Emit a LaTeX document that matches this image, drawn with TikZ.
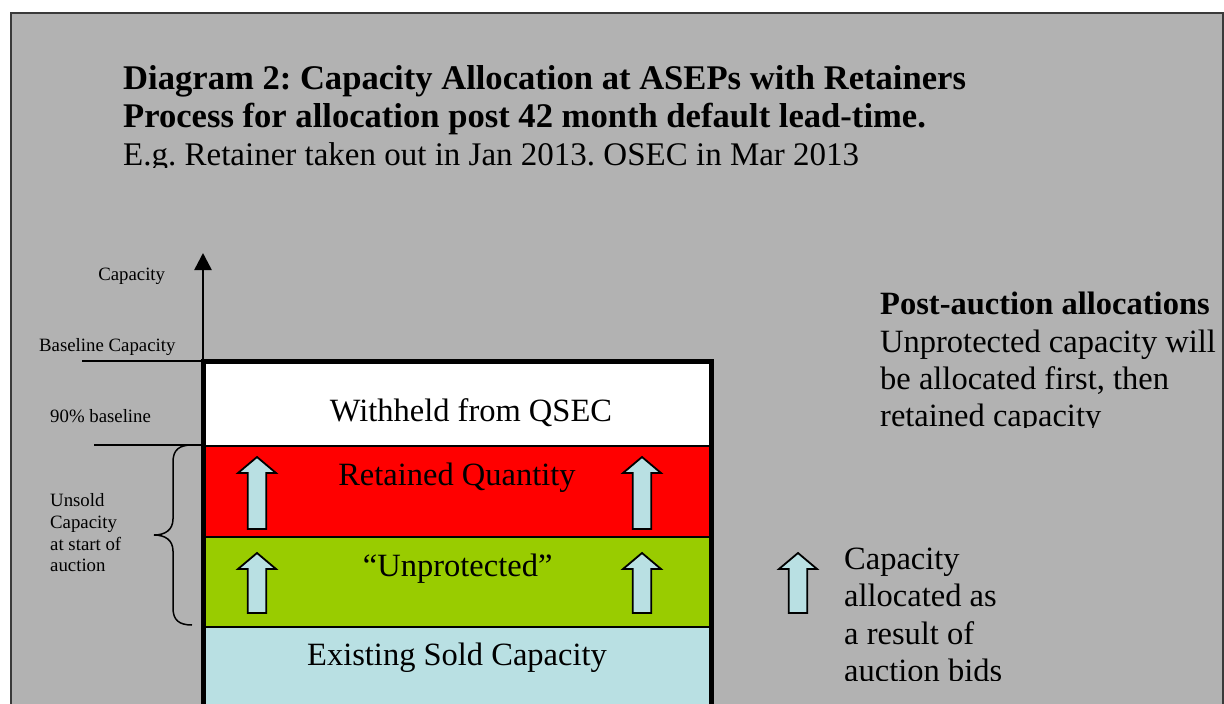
\documentclass[tikz,border=0pt]{standalone}
\usepackage{fontspec}
\setmainfont{Liberation Serif}
\usepackage{xcolor}
\usepackage{tikz}
\usetikzlibrary{arrows.meta}
\frenchspacing
\definecolor{panel}{HTML}{B2B2B2}
\definecolor{frame}{HTML}{3A3A3A}
\definecolor{ink}{HTML}{000000}
\definecolor{retained}{HTML}{FF0000}
\definecolor{unprot}{HTML}{99CC00}
\definecolor{sold}{HTML}{B9E0E3}
\tikzset{
  panelbox/.style={fill=panel, draw=frame, line width=2pt},
  layer/.style={draw=ink, line width=1.6pt},
  stackwall/.style={draw=ink, line width=5pt, line join=miter},
  axisline/.style={draw=ink, line width=2.5pt, -{Triangle[width=17pt,length=17pt]}},
  tick/.style={draw=ink, line width=1.5pt},
  bidarrow/.style={fill=sold, draw=ink, line width=1.8pt, line join=miter},
  titletxt/.style={font=\fontsize{34.6}{39}\selectfont\bfseries, inner sep=0pt, text=ink},
  bigtxt/.style={font=\fontsize{32.5}{37.3}\selectfont, inner sep=0pt, text=ink},
  smalltxt/.style={font=\fontsize{18.8}{21.7}\selectfont, inner sep=0pt, text=ink}
}
% block arrow: centre x, tip y, foot y
\newcommand{\upblock}[3]{%
  \draw[bidarrow] (#1-9.3,#3) -- (#1-9.3,#2+16) -- (#1-19,#2+16) -- (#1,#2)
    -- (#1+19,#2+16) -- (#1+9.3,#2+16) -- (#1+9.3,#3) -- cycle;}

\begin{document}
\begin{tikzpicture}[x=1pt, y=-1pt]
  \useasboundingbox (0,0) rectangle (1224,704);
  \clip (0,0) rectangle (1224,704);
  \draw[panelbox] (10.5,12.5) rectangle (1222.5,740);

  % heading
  \node[titletxt, anchor=base west] (title1) at (123,89)
    {Diagram 2: Capacity Allocation at ASEPs with Retainers};
  \node[titletxt, anchor=base west] (title2) at (123,127.7)
    {Process for allocation post 42 month default lead-time.};
  \begin{scope}
    \clip (10,135) rectangle (1222,167.5);
    \node[bigtxt, font=\fontsize{33}{37}\selectfont, anchor=base west] (example) at (123,165.7)
      {E.g. Retainer taken out in Jan 2013. OSEC in Mar 2013};
  \end{scope}

  % capacity stack
  \coordinate (stackTL) at (203,361);
  \coordinate (stackTR) at (711.5,361);
  \fill[white] (203,361) rectangle (711.5,446);
  \fill[retained] (203,446) rectangle (711.5,537);
  \fill[unprot] (203,537) rectangle (711.5,627);
  \fill[sold] (203,627) rectangle (711.5,720);
  \foreach \y in {446,537,627}
    \draw[layer] (203,\y) -- (711.5,\y);

  \node[bigtxt, anchor=base] (withheld) at (471,421.7) {Withheld from QSEC};
  \node[bigtxt, anchor=base] (retainedq) at (457,485) {Retained Quantity};
  \node[bigtxt, anchor=base] (unprotected) at (457.7,576) {“Unprotected”};
  \node[bigtxt, anchor=base] (existing) at (457,665) {Existing Sold Capacity};

  \foreach \x in {257,642} {
    \upblock{\x}{457}{529}
    \upblock{\x}{553}{613}
  }

  % axis and levels
  \coordinate (axisTop) at (203,253);
  \coordinate (baseL) at (82,361);
  \coordinate (ninetyL) at (94,445);
  \coordinate (ninetyR) at (201,445);
  \draw[tick] (baseL) -- (stackTL);
  \draw[tick] (ninetyL) -- (ninetyR);
  \draw[axisline] (stackTL) -- (axisTop);
  \draw[stackwall] (203,720) -- (stackTL) -- (stackTR) -- (711.5,720);

  \node[smalltxt, anchor=base] (capaxis) at (131.7,280) {Capacity};
  \node[smalltxt, anchor=base west] (baselinecap) at (39,351.7) {Baseline Capacity};
  \node[smalltxt, anchor=base west] (ninety) at (50,422.7) {90\% baseline};
  % base of a multi-line node = last line
  \node[smalltxt, anchor=base west, align=left] (unsold) at (50,571.8)
    {Unsold\\Capacity\\at start of\\auction};

  % brace over unsold part
  \draw[tick] (192,445) .. controls (179,445) and (173,450) .. (173,462) -- (173,519)
    .. controls (173,530) and (165,535) .. (154,535)
    .. controls (165,535) and (173,540) .. (173,551) -- (173,608)
    .. controls (173,620) and (179,625) .. (192,625);

  % post-auction note
  \begin{scope}
    \clip (860,280) rectangle (1221,427);
    \node[bigtxt, anchor=base west, align=left] (postnote) at (880,426.6)
      {\textbf{Post-auction allocations}\\Unprotected capacity will\\be allocated first, then\\retained capacity};
  \end{scope}

  % legend
  \upblock{798}{553}{613}
  \begin{scope}
    \clip (830,530) rectangle (1221,680.5);
    \node[bigtxt, anchor=base west, align=left] (legend) at (844,681.3)
      {Capacity\\allocated as\\a result of\\auction bids};
  \end{scope}
\end{tikzpicture}
\end{document}
